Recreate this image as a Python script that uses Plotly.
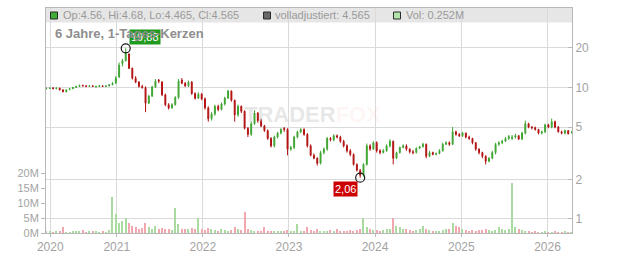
import plotly.graph_objects as go
import pandas as pd
import numpy as np

# ---------------- data ----------------
start_date = "2020-03-09"
step = "14D"

opens = [
    9.8, 9.85, 9.95, 9.8, 9.9, 9.6, 9.3, 9.65, 9.8, 10.0,
    10.2, 10.4, 10.3, 10.2, 10.3, 10.1, 10.2, 10.3, 10.2, 10.3,
    10.5, 10.8, 12.0, 15.2, 16.0, 18.0, 14.0, 11.8, 11.0, 10.2,
    10.0, 7.6, 8.6, 10.1, 11.4, 11.0, 8.8, 7.4, 7.0, 7.4,
    8.4, 11.4, 10.8, 10.3, 11.0, 9.0, 8.3, 8.9, 8.2, 7.0,
    5.8, 6.3, 7.2, 6.8, 7.5, 8.3, 9.4, 8.0, 6.2, 7.2,
    6.6, 4.9, 4.4, 5.3, 6.4, 5.6, 5.1, 4.7, 4.1, 3.6,
    4.2, 4.5, 4.9, 4.8, 3.4, 3.5, 4.2, 4.6, 4.8, 4.4,
    3.6, 3.05, 2.9, 2.65, 3.2, 3.4, 4.1, 4.0, 4.3, 4.2,
    3.9, 3.6, 3.3, 3.1, 2.6, 2.35, 2.15, 2.6, 3.6, 3.4,
    3.8, 3.3, 3.2, 3.3, 3.6, 3.9, 2.9, 3.2, 3.5, 3.6,
    3.4, 3.25, 3.2, 3.45, 3.55, 3.7, 3.0, 3.2, 3.1, 3.15,
    3.3, 3.7, 3.8, 3.7, 4.6, 4.4, 4.3, 4.5, 4.2, 4.1,
    3.8, 3.4, 3.2, 3.0, 2.75, 2.9, 3.2, 3.7, 3.8, 3.9,
    4.1, 4.1, 4.2, 4.3, 4.05, 4.5, 5.3, 5.0, 4.95, 4.8,
    4.5, 4.6, 5.2, 5.0, 5.5, 5.0, 4.6, 4.5, 4.7, 4.56,
]
highs = [
    10.0, 10.0, 10.0, 10.0, 9.95, 9.7, 9.7, 9.9, 10.1, 10.3,
    10.5, 10.5, 10.4, 10.4, 10.4, 10.3, 10.4, 10.4, 10.4, 10.6,
    11.0, 12.2, 15.5, 16.5, 19.88, 18.2, 14.2, 12.2, 11.2, 10.5,
    10.2, 8.8, 10.3, 11.6, 11.6, 11.2, 9.0, 7.6, 7.6, 8.6,
    11.6, 11.8, 11.0, 11.3, 11.2, 9.2, 9.2, 9.1, 8.4, 7.2,
    6.5, 7.4, 7.4, 7.7, 8.5, 9.6, 9.5, 8.1, 7.4, 7.3,
    6.7, 5.0, 5.5, 6.7, 6.5, 5.8, 5.2, 4.8, 4.2, 4.3,
    4.6, 4.9, 5.0, 4.9, 3.6, 4.3, 4.7, 4.9, 4.9, 4.5,
    3.7, 3.15, 2.95, 3.3, 3.5, 4.2, 4.2, 4.4, 4.4, 4.3,
    4.0, 3.7, 3.4, 3.15, 2.65, 2.4, 2.65, 3.75, 3.7, 3.9,
    3.9, 3.4, 3.4, 3.7, 4.05, 3.95, 3.25, 3.55, 3.7, 3.7,
    3.45, 3.35, 3.5, 3.6, 3.8, 3.75, 3.3, 3.25, 3.2, 3.4,
    3.8, 3.9, 3.9, 5.0, 4.7, 4.5, 4.6, 4.55, 4.3, 4.15,
    3.85, 3.45, 3.25, 3.05, 2.95, 3.3, 3.8, 3.9, 4.0, 4.2,
    4.35, 4.35, 4.45, 4.35, 4.6, 5.6, 5.4, 5.1, 5.05, 4.85,
    4.7, 5.3, 5.3, 5.8, 5.6, 5.1, 4.7, 4.8, 4.75, 4.68,
]
lows = [
    9.7, 9.75, 9.7, 9.7, 9.5, 9.2, 9.2, 9.55, 9.75, 9.95,
    10.1, 10.2, 10.1, 10.1, 10.1, 10.0, 10.1, 10.1, 10.1, 10.2,
    10.4, 10.7, 11.9, 14.5, 15.8, 13.8, 11.5, 10.8, 10.0, 9.8,
    6.5, 7.5, 8.5, 9.9, 10.8, 8.6, 7.2, 6.8, 6.9, 7.3,
    8.2, 10.6, 10.1, 10.1, 8.8, 8.1, 8.2, 8.0, 6.8, 5.5,
    5.6, 6.1, 6.6, 6.7, 7.3, 8.2, 7.8, 5.5, 6.0, 6.4,
    4.8, 4.2, 4.3, 5.2, 5.4, 5.0, 4.6, 4.0, 3.5, 3.5,
    4.1, 4.4, 4.6, 3.05, 3.3, 3.4, 4.1, 4.5, 4.3, 3.5,
    3.0, 2.85, 2.55, 2.6, 3.1, 3.3, 3.9, 3.9, 4.1, 3.8,
    3.5, 3.2, 3.0, 2.55, 2.3, 2.06, 2.1, 2.55, 3.3, 3.35,
    3.2, 3.1, 3.15, 3.25, 3.5, 2.6, 2.85, 3.15, 3.45, 3.3,
    3.15, 3.1, 3.15, 3.4, 3.5, 2.9, 2.95, 3.05, 3.05, 3.1,
    3.25, 3.65, 3.6, 3.65, 4.3, 4.2, 4.2, 4.1, 4.0, 3.7,
    3.3, 3.1, 2.9, 2.6, 2.7, 2.85, 3.1, 3.6, 3.7, 3.85,
    4.0, 4.0, 4.1, 4.0, 4.0, 4.4, 4.9, 4.8, 4.7, 4.4,
    4.4, 4.5, 4.9, 4.9, 4.9, 4.55, 4.4, 4.4, 4.4, 4.465,
]
closes = [
    9.85, 9.9, 9.8, 9.9, 9.6, 9.3, 9.6, 9.8, 10.0, 10.2,
    10.4, 10.3, 10.2, 10.3, 10.2, 10.2, 10.3, 10.2, 10.3, 10.5,
    10.8, 11.8, 14.8, 16.0, 18.5, 14.0, 11.8, 11.0, 10.2, 10.0,
    7.6, 8.6, 10.1, 11.2, 11.2, 8.8, 7.4, 7.0, 7.4, 8.4,
    11.2, 10.8, 10.3, 11.0, 9.0, 8.3, 8.9, 8.2, 7.0, 5.8,
    6.3, 7.2, 6.8, 7.5, 8.3, 9.4, 8.0, 6.2, 7.2, 6.6,
    4.9, 4.4, 5.3, 6.4, 5.6, 5.1, 4.7, 4.1, 3.6, 4.2,
    4.5, 4.8, 4.8, 3.4, 3.5, 4.2, 4.6, 4.8, 4.4, 3.6,
    3.05, 2.9, 2.65, 3.2, 3.4, 4.1, 4.0, 4.3, 4.2, 3.9,
    3.6, 3.3, 3.1, 2.6, 2.35, 2.15, 2.6, 3.6, 3.4, 3.8,
    3.3, 3.2, 3.3, 3.6, 3.9, 2.9, 3.2, 3.5, 3.6, 3.4,
    3.25, 3.2, 3.45, 3.55, 3.7, 3.0, 3.2, 3.1, 3.15, 3.3,
    3.7, 3.8, 3.7, 4.6, 4.4, 4.3, 4.5, 4.2, 4.1, 3.8,
    3.4, 3.2, 3.0, 2.75, 2.9, 3.2, 3.7, 3.8, 3.9, 4.1,
    4.25, 4.2, 4.3, 4.05, 4.5, 5.3, 5.0, 4.95, 4.8, 4.5,
    4.6, 5.2, 5.0, 5.5, 5.0, 4.6, 4.5, 4.7, 4.45, 4.565,
]
volumes_m = [
    0.4, 0.5, 0.3, 0.6, 0.4, 2.0, 0.3, 0.2, 0.6, 0.5,
    0.8, 1.0, 0.3, 0.6, 0.4, 0.5, 0.3, 0.4, 0.3, 1.0,
    12.0, 6.5, 3.5, 4.0, 5.0, 3.5, 2.5, 2.0, 1.5, 1.8,
    3.5, 2.0, 1.5, 2.2, 1.5, 1.8, 1.2, 1.5, 1.0, 8.5,
    3.0, 1.5, 1.2, 1.5, 1.8, 1.3, 5.0, 1.5, 1.0, 1.8,
    1.2, 1.0, 0.8, 1.5, 1.0, 0.8, 1.0, 2.0, 1.5, 1.0,
    7.0, 1.5, 1.0, 0.8, 0.7, 0.6, 2.0, 0.8, 0.7, 0.6,
    0.6, 0.5, 0.8, 1.0, 0.7, 0.6, 3.0, 0.8, 0.6, 2.0,
    1.0, 0.8, 1.2, 0.7, 0.8, 0.6, 1.0, 0.7, 1.2, 0.8,
    0.8, 0.7, 1.0, 0.8, 1.0, 1.5, 5.0, 2.0, 1.2, 1.0,
    0.9, 0.8, 1.0, 1.2, 1.5, 5.0, 2.5, 2.0, 1.5, 1.2,
    1.0, 0.8, 0.9, 1.2, 2.5, 1.2, 0.9, 0.8, 0.7, 0.8,
    1.0, 1.2, 1.5, 3.2, 2.5, 2.0, 1.5, 1.0, 0.8, 1.0,
    0.8, 0.9, 1.0, 1.2, 0.9, 0.8, 1.0, 2.0, 1.2, 1.0,
    1.2, 16.7, 2.0, 1.5, 1.0, 0.5, 0.4, 0.3, 0.4, 0.3,
    0.3, 0.4, 0.3, 0.3, 0.4, 0.3, 0.3, 0.5, 0.3, 0.25,
]

price_ticks = [1, 2, 5, 10, 20]
vol_ticks = [0, 5, 10, 15, 20]
vol_tick_labels = ["0M", "5M", "10M", "15M", "20M"]
year_tick_dates = ["2020-03-25", "2021-01-01", "2022-01-01", "2023-01-01",
                   "2024-01-01", "2025-01-01", "2026-01-01"]
year_tick_labels = ["2020", "2021", "2022", "2023", "2024", "2025", "2026"]
x_range = ["2020-03-07", "2026-04-15"]
price_range = [0.782, 40.3]
vol_range = [0, 75]

title_text = "6 Jahre, 1-Tages-Kerzen"
legend_ohlc = "Op:4.56, Hi:4.68, Lo:4.465, Cl:4.565"
legend_adj = "volladjustiert: 4.565"
legend_vol = "Vol: 0.252M"

# ---------------- layout helpers ----------------
W, H = 632, 253
L, R, T, B = 46, 60, 8, 20
PW, PH = W - L - R, H - T - B


def px(x):
    return (x - L) / PW


def py(y):
    return (H - B - y) / PH


FONT = "Liberation Sans, Arial, sans-serif"
GREEN = "#3ea532"
RED = "#b31212"
GRID = "#dadada"
AXIS = "#b8b8b8"
TICKTXT = "#a3a3a3"

dates = pd.date_range(start_date, periods=len(closes), freq=step)
vol_colors = ["#a9dba0" if c >= o else "#f2a7b0" for o, c in zip(opens, closes)]

fig = go.Figure()

fig.add_trace(go.Bar(
    x=dates, y=volumes_m, marker=dict(color=vol_colors, line=dict(width=0)),
    width=5 * 86400000, yaxis="y", hoverinfo="skip",
))

fig.add_trace(go.Candlestick(
    x=dates, open=opens, high=highs, low=lows, close=closes, yaxis="y2",
    increasing=dict(line=dict(color=GREEN, width=1), fillcolor=GREEN),
    decreasing=dict(line=dict(color=RED, width=1), fillcolor=RED),
    whiskerwidth=0,
))

imax = int(np.argmax(highs))
imin = int(np.argmin(lows))
fig.add_trace(go.Scatter(
    x=[dates[imax], dates[imin]], y=[highs[imax], lows[imin]], yaxis="y2",
    mode="markers",
    marker=dict(symbol="circle-open", size=9, color="#1a1a1a", line=dict(width=1.2)),
    hoverinfo="skip",
))


def fmt_de(v):
    return f"{v:.2f}".replace(".", ",")


annotations = [
    # watermark
    dict(xref="paper", yref="paper", x=px(312), y=py(115), xanchor="center", yanchor="middle",
         text="<b>TRADER<span style='color:rgba(240,110,110,0.28)'>FOX</span></b>",
         showarrow=False, font=dict(family=FONT, size=22, color="rgba(170,170,170,0.3)")),
    # max / min labels
    dict(x=dates[imax], y=np.log10(highs[imax]), xref="x", yref="y2", text=fmt_de(highs[imax]),
         showarrow=False, xshift=19, yshift=11, bgcolor="#1f9a1f", borderpad=1,
         font=dict(family=FONT, size=11, color="white")),
    dict(x=dates[imin], y=np.log10(lows[imin]), xref="x", yref="y2", text=fmt_de(lows[imin]),
         showarrow=False, xshift=-15, yshift=-11, bgcolor="#cc0000", borderpad=1,
         font=dict(family=FONT, size=11, color="white")),
    # title
    dict(xref="paper", yref="paper", x=px(53), y=py(34), xanchor="left", yanchor="middle",
         text="<b>" + title_text + "</b>", showarrow=False,
         font=dict(family=FONT, size=13, color="#8e8e8e")),
    # header legend
    dict(xref="paper", yref="paper", x=px(61), y=py(15.5), xanchor="left", yanchor="middle",
         text=legend_ohlc, showarrow=False, font=dict(family=FONT, size=11, color="#9a9a9a")),
    dict(xref="paper", yref="paper", x=px(273), y=py(15.5), xanchor="left", yanchor="middle",
         text=legend_adj, showarrow=False, font=dict(family=FONT, size=11, color="#9a9a9a")),
    dict(xref="paper", yref="paper", x=px(404), y=py(15.5), xanchor="left", yanchor="middle",
         text=legend_vol, showarrow=False, font=dict(family=FONT, size=11, color="#9a9a9a")),
]

shapes = [
    dict(type="rect", xref="paper", yref="paper", x0=0, x1=1, y0=py(22.5), y1=1,
         fillcolor="#e6e6e6", line=dict(width=0), layer="below"),
]
for x0, fill in [(50.5, "#3fae35"), (263.5, "#676767"), (393.5, "#b5e3ad")]:
    shapes.append(dict(type="rect", xref="paper", yref="paper",
                       x0=px(x0), x1=px(x0 + 7), y0=py(19), y1=py(12),
                       fillcolor=fill, line=dict(color="#2a2a2a", width=1), layer="above"))

fig.update_layout(
    width=W, height=H,
    margin=dict(l=L, r=R, t=T, b=B, pad=0, autoexpand=False),
    paper_bgcolor="white", plot_bgcolor="white",
    showlegend=False,
    font=dict(family=FONT),
    bargap=0,
    boxgap=0.6,
    xaxis=dict(
        type="date", range=x_range, tickvals=year_tick_dates, ticktext=year_tick_labels,
        ticks="outside", ticklen=3, tickcolor=AXIS, automargin=False,
        showgrid=True, gridcolor=GRID, gridwidth=1,
        showline=True, mirror=True, linecolor=AXIS, linewidth=1,
        tickfont=dict(size=12, color=TICKTXT, family=FONT),
        rangeslider=dict(visible=False), zeroline=False,
    ),
    yaxis=dict(
        range=vol_range, tickvals=vol_ticks, ticktext=vol_tick_labels, side="left",
        showgrid=False, zeroline=False, ticks="outside", ticklen=4, tickcolor=AXIS,
        showline=True, linecolor=AXIS, linewidth=1, automargin=False,
        tickfont=dict(size=11, color=TICKTXT, family=FONT),
    ),
    yaxis2=dict(
        type="log", range=[np.log10(price_range[0]), np.log10(price_range[1])],
        overlaying="y", side="right", automargin=False,
        tickvals=price_ticks, ticktext=[str(t) for t in price_ticks],
        ticks="inside", ticklen=4, tickcolor=AXIS,
        showgrid=True, gridcolor=GRID, gridwidth=1, zeroline=False,
        showline=True, linecolor=AXIS, linewidth=1,
        tickfont=dict(size=12, color=TICKTXT, family=FONT),
    ),
    annotations=annotations,
    shapes=shapes,
)

fig.write_html("out.html")
